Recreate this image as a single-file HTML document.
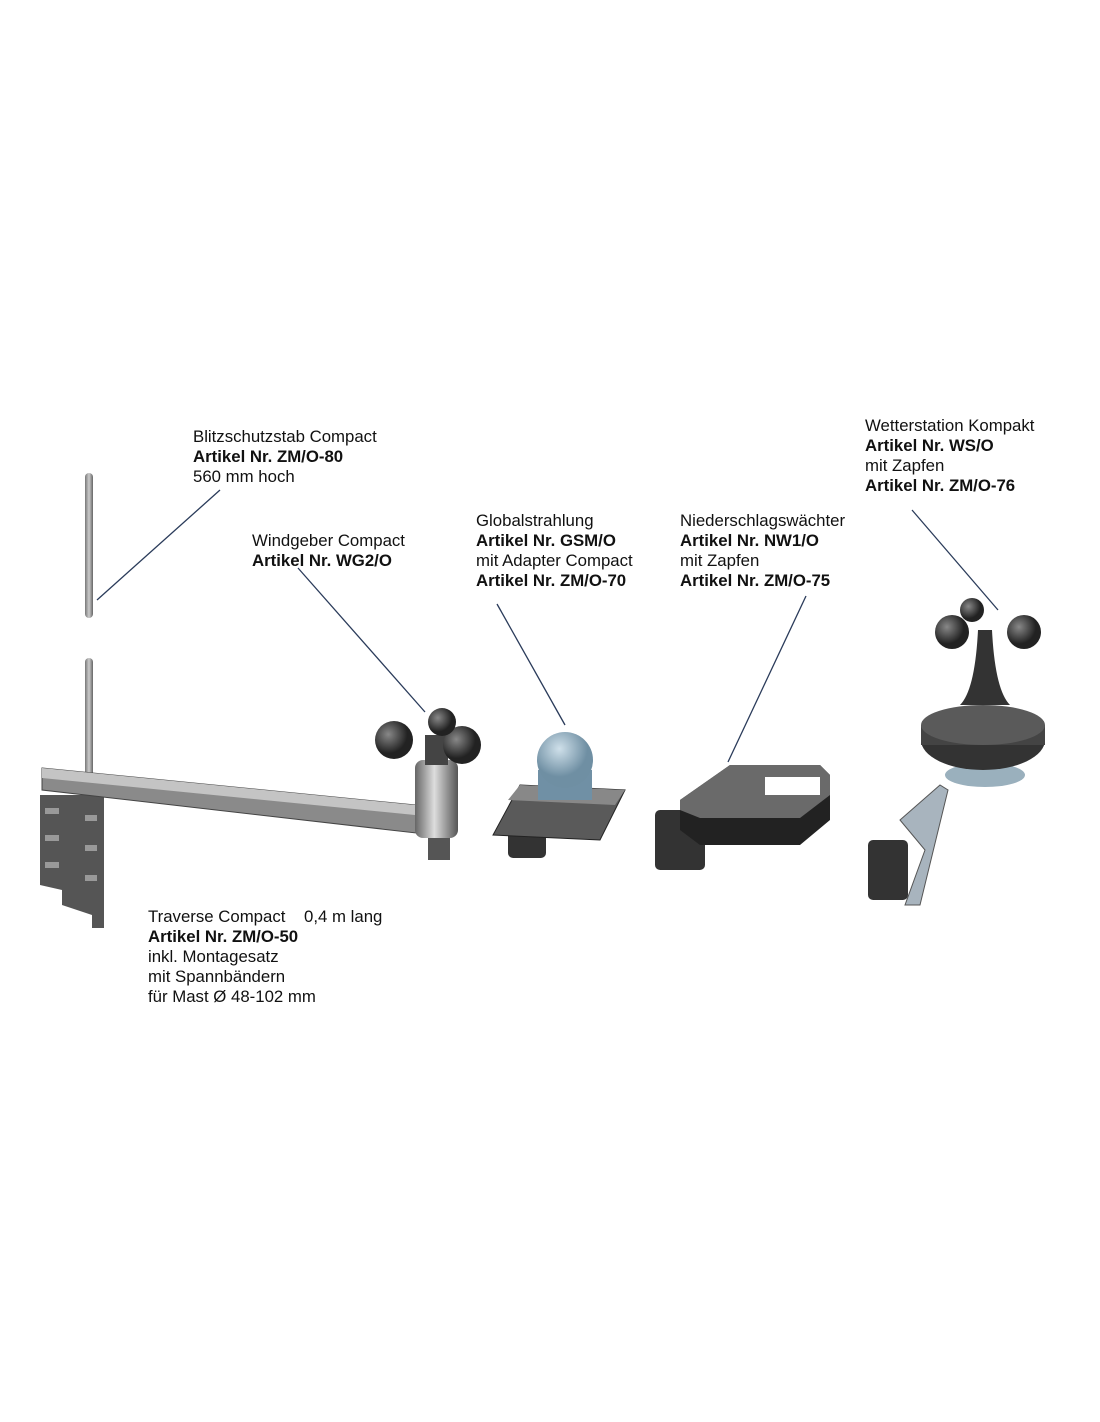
<!DOCTYPE html>
<html><head><meta charset="utf-8"><style>
body{margin:0;background:#fff}
svg{display:block}
text{font-family:"Liberation Sans",sans-serif;font-size:16.8px;fill:#111}
.b{font-weight:bold}
</style></head><body>
<svg width="1100" height="1422" viewBox="0 0 1100 1422" xmlns="http://www.w3.org/2000/svg">
<defs>
<linearGradient id="rod" x1="0" x2="1"><stop offset="0" stop-color="#777"/><stop offset=".5" stop-color="#ccc"/><stop offset="1" stop-color="#666"/></linearGradient>
<linearGradient id="cyl" x1="0" x2="1"><stop offset="0" stop-color="#666"/><stop offset=".45" stop-color="#ddd"/><stop offset="1" stop-color="#555"/></linearGradient>
<radialGradient id="cup" cx=".35" cy=".35"><stop offset="0" stop-color="#888"/><stop offset="1" stop-color="#222"/></radialGradient>
<radialGradient id="dome" cx=".4" cy=".3"><stop offset="0" stop-color="#cfe0ea"/><stop offset="1" stop-color="#6f8fa3"/></radialGradient>
</defs>
<text x="193" y="442">Blitzschutzstab Compact</text>
<text x="193" y="462" class="b">Artikel Nr. ZM/O-80</text>
<text x="193" y="482">560 mm hoch</text>
<text x="252" y="546">Windgeber Compact</text>
<text x="252" y="566" class="b">Artikel Nr. WG2/O</text>
<text x="476" y="526">Globalstrahlung</text>
<text x="476" y="546" class="b">Artikel Nr. GSM/O</text>
<text x="476" y="566">mit Adapter Compact</text>
<text x="476" y="586" class="b">Artikel Nr. ZM/O-70</text>
<text x="680" y="526">Niederschlagswächter</text>
<text x="680" y="546" class="b">Artikel Nr. NW1/O</text>
<text x="680" y="566">mit Zapfen</text>
<text x="680" y="586" class="b">Artikel Nr. ZM/O-75</text>
<text x="865" y="431">Wetterstation Kompakt</text>
<text x="865" y="451" class="b">Artikel Nr. WS/O</text>
<text x="865" y="471">mit Zapfen</text>
<text x="865" y="491" class="b">Artikel Nr. ZM/O-76</text>
<text x="148" y="922">Traverse Compact</text>
<text x="304" y="922">0,4 m lang</text>
<text x="148" y="942" class="b">Artikel Nr. ZM/O-50</text>
<text x="148" y="962">inkl. Montagesatz</text>
<text x="148" y="982">mit Spannbändern</text>
<text x="148" y="1002">für Mast Ø 48-102 mm</text>
<g stroke="#2a3b5a" stroke-width="1.3" fill="none">
<line x1="220" y1="490" x2="97" y2="600"/>
<line x1="298" y1="568" x2="425" y2="712"/>
<line x1="497" y1="604" x2="565" y2="725"/>
<line x1="806" y1="596" x2="728" y2="762"/>
<line x1="912" y1="510" x2="998" y2="610"/>
</g>
<rect x="85" y="473" width="8" height="145" rx="4" fill="url(#rod)"/>
<rect x="85" y="658" width="8" height="125" rx="4" fill="url(#rod)"/>
<path d="M40 795 H104 V928 H92 V915 L62 905 V890 L40 885 Z" fill="#555"/>
<g fill="#999"><rect x="45" y="808" width="14" height="6"/><rect x="45" y="835" width="14" height="6"/><rect x="45" y="862" width="14" height="6"/><rect x="85" y="815" width="12" height="6"/><rect x="85" y="845" width="12" height="6"/><rect x="85" y="875" width="12" height="6"/></g>
<polygon points="42,768 425,806 425,834 42,790" fill="#8a8a8a" stroke="#444"/>
<polygon points="42,768 425,806 425,816 42,778" fill="#c4c4c4"/>
<rect x="428" y="830" width="22" height="30" fill="#555"/>
<rect x="415" y="760" width="43" height="78" rx="8" fill="url(#cyl)"/>
<rect x="425" y="735" width="23" height="30" fill="#444"/>
<circle cx="394" cy="740" r="19" fill="url(#cup)"/>
<circle cx="462" cy="745" r="19" fill="url(#cup)"/>
<circle cx="442" cy="722" r="14" fill="url(#cup)"/>
<rect x="508" y="808" width="38" height="50" rx="5" fill="#333"/>
<polygon points="520,785 625,790 600,840 493,835" fill="#5a5a5a" stroke="#222"/>
<polygon points="520,785 625,790 615,805 508,800" fill="#888"/>
<rect x="538" y="770" width="54" height="30" fill="#7090a5"/>
<circle cx="565" cy="760" r="28" fill="url(#dome)"/>
<rect x="655" y="810" width="50" height="60" rx="5" fill="#333"/>
<path d="M680 800 L730 765 H820 L830 775 V820 L800 845 H700 L680 830 Z" fill="#222"/>
<path d="M680 800 L730 765 H820 L830 775 V795 L800 818 H700 L680 810 Z" fill="#6a6a6a"/>
<rect x="765" y="777" width="55" height="18" fill="#fff"/>
<rect x="868" y="840" width="40" height="60" rx="5" fill="#333"/>
<polygon points="900,820 940,785 948,790 920,905 905,905 925,850" fill="#a8b4be" stroke="#555"/>
<ellipse cx="985" cy="775" rx="40" ry="12" fill="#9ab0bd"/>
<ellipse cx="983" cy="740" rx="62" ry="30" fill="#333"/>
<rect x="921" y="725" width="124" height="20" fill="#444"/>
<ellipse cx="983" cy="725" rx="62" ry="20" fill="#5a5a5a"/>
<path d="M960 705 Q975 690 978 630 H992 Q995 690 1010 705 Z" fill="#333"/>
<circle cx="952" cy="632" r="17" fill="url(#cup)"/>
<circle cx="1024" cy="632" r="17" fill="url(#cup)"/>
<circle cx="972" cy="610" r="12" fill="url(#cup)"/>
</svg>
</body></html>
